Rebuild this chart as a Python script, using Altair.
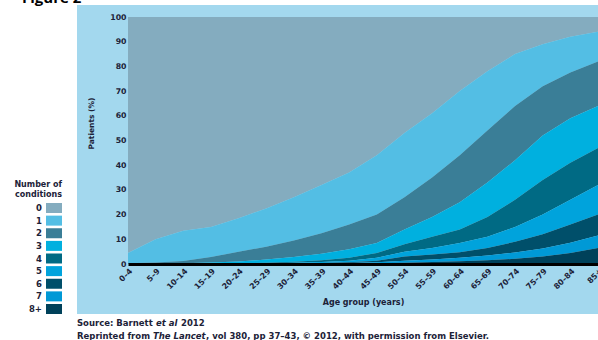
import altair as alt
import pandas as pd

ages = ["0–4", "5–9", "10–14", "15–19", "20–24", "25–29", "30–34", "35–39", "40–44",
        "45–49", "50–54", "55–59", "60–64", "65–69", "70–74", "75–79", "80–84", "85+"]

# cumulative share of patients (%) with at least k conditions
ge1 = [4.5, 10, 13.5, 15, 18.5, 22.5, 27, 32, 37, 44, 53, 61, 70, 78, 85, 89, 92, 94]
ge2 = [0.3, 0.6, 1.2, 2.8, 5, 7, 9.5, 12.5, 16, 20, 27, 35, 44, 54, 64, 72, 77.5, 82]
ge3 = [0.1, 0.2, 0.3, 0.6, 1, 1.8, 2.8, 4.2, 6, 8.5, 14, 19, 25, 33, 42, 52, 59, 64]
ge4 = [0, 0, 0.1, 0.2, 0.3, 0.5, 0.9, 1.5, 2.5, 4.5, 8, 11, 14, 19, 26, 34, 41, 47]
ge5 = [0, 0, 0, 0.1, 0.15, 0.3, 0.5, 0.8, 1.3, 2.5, 5, 6.5, 8.5, 11, 15, 20, 26, 32]
ge6 = [0, 0, 0, 0, 0.1, 0.15, 0.25, 0.4, 0.7, 1.3, 3, 3.8, 4.8, 6.5, 9, 12, 16, 20]
ge7 = [0, 0, 0, 0, 0, 0.1, 0.15, 0.25, 0.4, 0.7, 1.3, 1.8, 2.5, 3.4, 4.7, 6.3, 8.6, 11.5]
ge8 = [0, 0, 0, 0, 0, 0, 0.05, 0.1, 0.2, 0.3, 0.5, 0.8, 1.1, 1.5, 2.1, 3, 4.5, 6.5]

band_labels = ["0", "1", "2", "3", "4", "5", "6", "7", "8+"]
band_colors = ["#84acbf", "#53bee4", "#3a7e97", "#00b0df", "#006a84",
               "#00a3dc", "#004f6a", "#0099d6", "#00415a"]
y_ticks = list(range(0, 101, 10))

bounds = [[100] * len(ages), ge1, ge2, ge3, ge4, ge5, ge6, ge7, ge8, [0] * len(ages)]
rows = []
for k, lab in enumerate(band_labels):
    for i, a in enumerate(ages):
        rows.append({"age": a, "band": lab, "upper": bounds[k][i], "lower": bounds[k + 1][i]})
df = pd.DataFrame(rows)
leg_df = pd.DataFrame({"band": band_labels, "idx": list(range(len(band_labels)))})
one = pd.DataFrame({"d": [0]})

TXT = "#1c2238"
FONT = "DejaVu Sans"
color_scale = alt.Scale(domain=band_labels, range=band_colors)

panel = alt.Chart(one).mark_rect(color="#a3d8ee").encode(
    x=alt.value(-51), x2=alt.value(472), y=alt.value(-12), y2=alt.value(297)
)

areas = alt.Chart(df).mark_area(interpolate="linear", opacity=1).encode(
    x=alt.X("age:N", sort=ages, scale=alt.Scale(type="point", padding=0),
            axis=alt.Axis(title="Age group (years)", labelAngle=-45, ticks=False,
                          domainColor="black", domainWidth=3, labelPadding=3,
                          labelFont=FONT, labelFontSize=7.8, labelFontWeight="bold",
                          labelColor=TXT, titleFont=FONT, titleFontSize=8,
                          titleFontWeight="bold", titleColor=TXT, titleY=38,
                          titleBaseline="middle", zindex=2)),
    y=alt.Y("upper:Q", stack=None, scale=alt.Scale(domain=[0, 100], nice=False),
            axis=alt.Axis(values=y_ticks, title="Patients (%)", domain=False, ticks=False,
                          grid=False, labelPadding=2, labelFont=FONT, labelFontSize=7.8,
                          labelFontWeight="bold", labelColor=TXT, titleFont=FONT,
                          titleFontSize=7.5, titleFontWeight="bold", titleColor=TXT,
                          titleX=-37, titleY=106, titleBaseline="middle", zindex=2)),
    y2="lower:Q",
    color=alt.Color("band:N", scale=color_scale, legend=None),
)

leg_y = alt.Y("idx:Q", scale=alt.Scale(domain=[0, 8], range=[191, 292]), axis=None)
leg_sym = alt.Chart(leg_df).mark_point(
    shape="M-1.6,-1L1.6,-1L1.6,1L-1.6,1Z", filled=True, size=100, opacity=1
).encode(x=alt.value(-74), y=leg_y,
         color=alt.Color("band:N", scale=color_scale, legend=None))
leg_txt = alt.Chart(leg_df).mark_text(
    align="right", baseline="middle", font=FONT, fontSize=8.5, fontWeight="bold", color=TXT
).encode(x=alt.value(-86), y=leg_y, text="band:N")

leg_title = alt.Chart(one).mark_text(
    text=["Number of", "conditions"], align="right", baseline="middle", font=FONT,
    fontSize=8, fontWeight="bold", color=TXT, lineHeight=10
).encode(x=alt.value(-66), y=alt.value(168))

def txt(s, x, y, size=8.5, style="normal", weight="bold", font=FONT, color=TXT):
    return alt.Chart(one).mark_text(
        text=s, align="left", baseline="middle", font=font, fontSize=size,
        fontStyle=style, fontWeight=weight, color=color
    ).encode(x=alt.value(x), y=alt.value(y))

fig_title = alt.Chart(one).mark_text(
    text="Figure 2", align="left", baseline="alphabetic", font="Open Sans",
    fontSize=15, fontWeight="bold", color="black"
).encode(x=alt.value(-106), y=alt.value(-14))

src = [
    txt("Source: Barnett", -51, 306),
    txt("et al", 28, 306, style="italic"),
    txt("2012", 53, 306),
    txt("Reprinted from", -51, 319),
    txt("The Lancet", 25, 319, style="italic"),
    txt(", vol 380, pp 37–43, © 2012, with permission from Elsevier.", 78, 319),
]

chart = alt.layer(panel, areas, leg_sym, leg_txt, leg_title, fig_title, *src).resolve_scale(
    y="independent"
).properties(
    width=470, height=247,
    autosize=alt.AutoSizeParams(type="none"),
    padding={"left": 128, "top": 17, "right": 0, "bottom": 76},
).configure(background="white").configure_view(stroke=None)

chart.save("out.html", embed_options={"renderer": "svg", "actions": False})
